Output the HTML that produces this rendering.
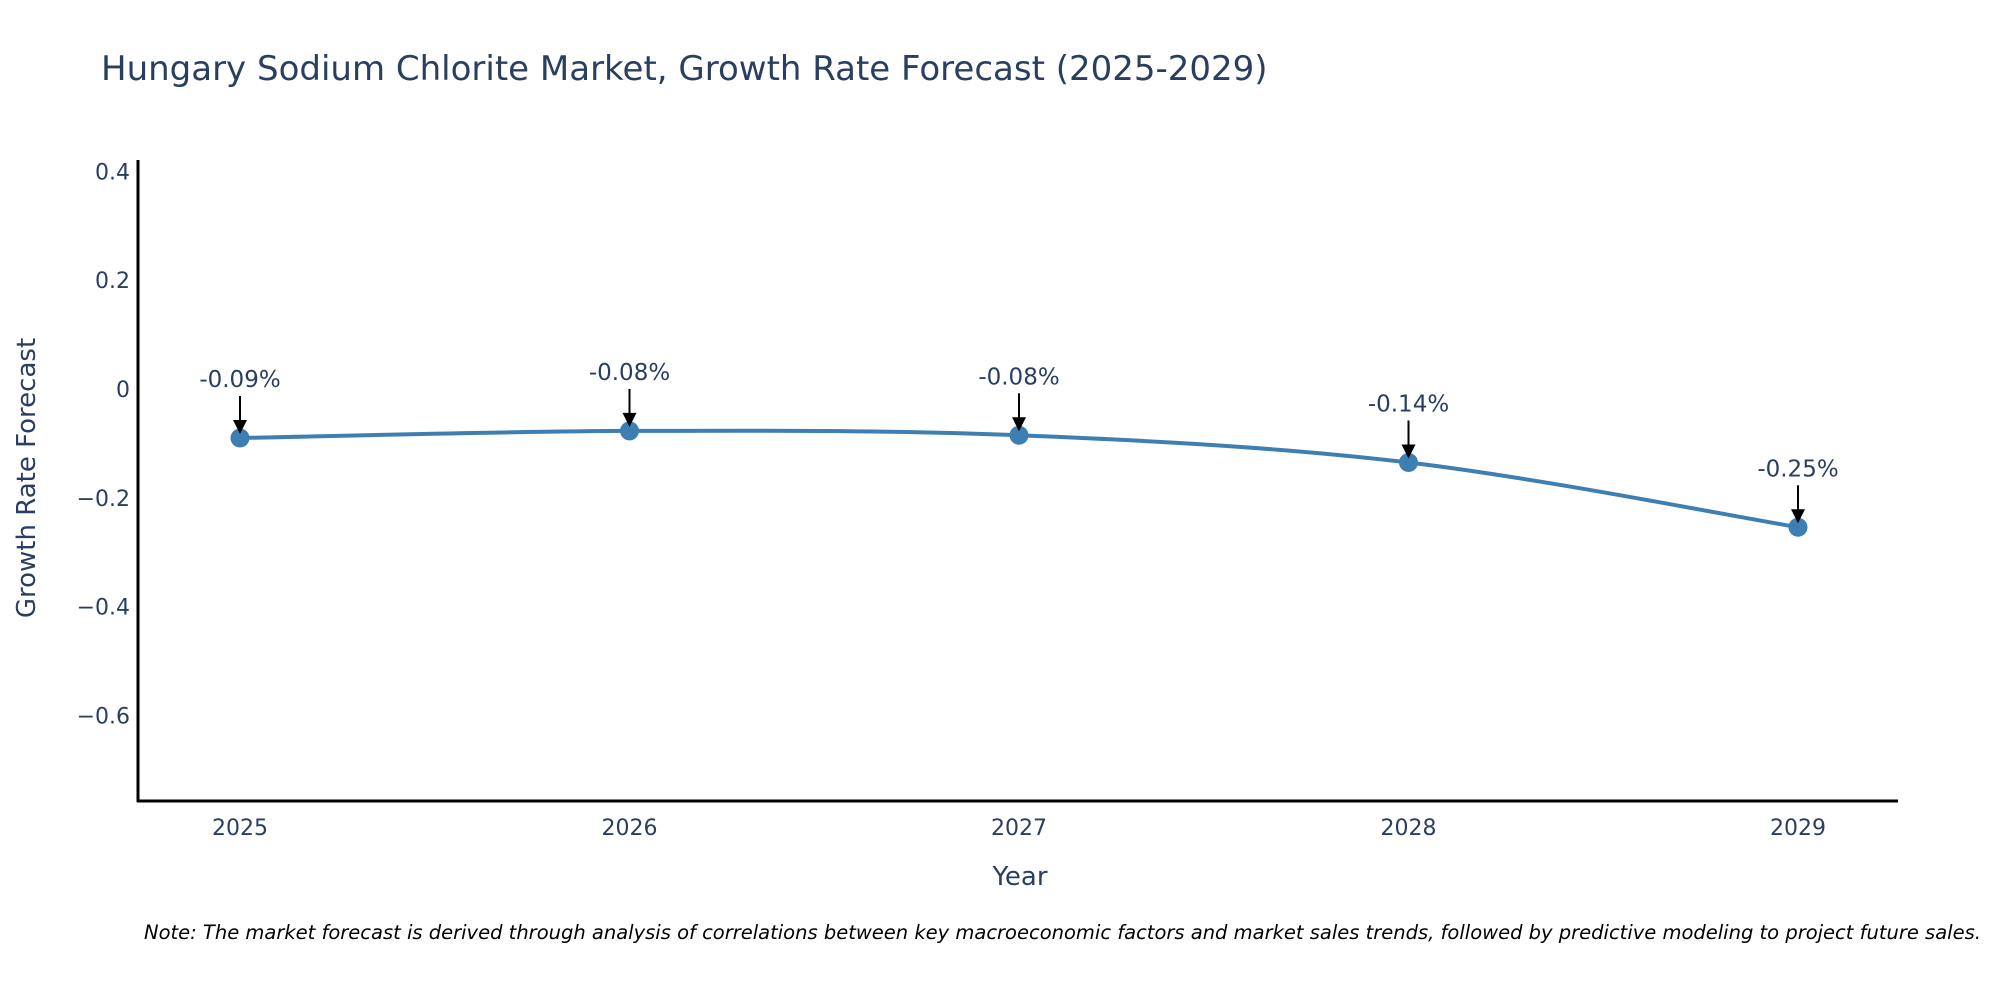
<!DOCTYPE html>
<html><head><meta charset="utf-8"><style>
body{margin:0;background:#fff;width:2000px;height:1000px;overflow:hidden}
svg{font-family:"DejaVu Sans","Liberation Sans",sans-serif}
</style></head><body>
<svg width="2000" height="1000">
<text x="101" y="80" font-size="34" fill="#2a3f5f">Hungary Sodium Chlorite Market, Growth Rate Forecast (2025-2029)</text>
<g id="yticks"></g><g id="xticks"></g>
<line x1="138" y1="160" x2="138" y2="802" stroke="#000" stroke-width="3"/>
<line x1="137" y1="801" x2="1898" y2="801" stroke="#000" stroke-width="3"/>
<path id="line" fill="none" stroke="#3d7fb3" stroke-width="4"/>
<g id="marks"></g>
<text x="1020" y="885" font-size="26" fill="#2a3f5f" text-anchor="middle">Year</text>
<text transform="translate(35,478) rotate(-90)" font-size="26" fill="#2a3f5f" text-anchor="middle">Growth Rate Forecast</text>
<text x="144" y="939" font-size="19.5" font-style="italic" fill="#000">Note: The market forecast is derived through analysis of correlations between key macroeconomic factors and market sales trends, followed by predictive modeling to project future sales.</text>
</svg>
<script>
const years=[2025,2026,2027,2028,2029];
const values=[-0.09,-0.077,-0.085,-0.135,-0.254];
const labels=["-0.09%","-0.08%","-0.08%","-0.14%","-0.25%"];
const yTicks=[0.4,0.2,0,-0.2,-0.4,-0.6];
const yTickLabels=["0.4","0.2","0","\u22120.2","\u22120.4","\u22120.6"];
const NS="http://www.w3.org/2000/svg";
const X=v=>240+(v-2025)*389.5;
const Y=v=>389-v*544.3;
function mk(t,a,p){const e=document.createElementNS(NS,t);for(const k in a)e.setAttribute(k,a[k]);p.appendChild(e);return e;}
const yt=document.getElementById('yticks');
yTicks.forEach((v,i)=>{const t=mk('text',{x:130,y:Y(v)+8,'font-size':22,fill:'#2a3f5f','text-anchor':'end'},yt);t.textContent=yTickLabels[i];

});
const xt=document.getElementById('xticks');
years.forEach(v=>{const t=mk('text',{x:X(v),y:835,'font-size':22,fill:'#2a3f5f','text-anchor':'middle'},xt);t.textContent=v;

});
const P=years.map((y,i)=>[X(y),Y(values[i])]);
let d=`M${P[0][0]},${P[0][1]}`;
for(let i=0;i<P.length-1;i++){const p0=P[Math.max(0,i-1)],p1=P[i],p2=P[i+1],p3=P[Math.min(P.length-1,i+2)];const s=6;
d+=` C${p1[0]+(p2[0]-p0[0])/s},${p1[1]+(p2[1]-p0[1])/s} ${p2[0]-(p3[0]-p1[0])/s},${p2[1]-(p3[1]-p1[1])/s} ${p2[0]},${p2[1]}`;}
document.getElementById('line').setAttribute('d',d);
const g=document.getElementById('marks');
P.forEach((p,i)=>{const c=mk('circle',{cx:p[0],cy:p[1],r:9.5,fill:'#3d7fb3'},g);


const l=mk('line',{x1:p[0],y1:p[1]-42,x2:p[0],y2:p[1]-16,stroke:'#000','stroke-width':2},g);


const a=mk('path',{d:`M${p[0]-7},${p[1]-18} L${p[0]+7},${p[1]-18} L${p[0]},${p[1]-4} Z`,fill:'#000'},g);


const t=mk('text',{x:p[0],y:p[1]-51,'font-size':23,fill:'#2a3f5f','text-anchor':'middle'},g);t.textContent=labels[i];

});
</script>
</body></html>
